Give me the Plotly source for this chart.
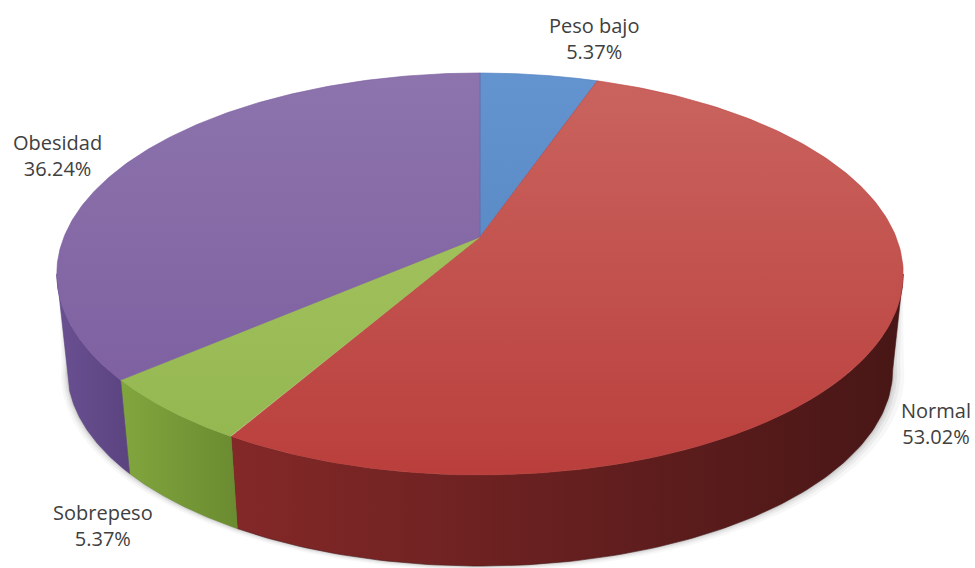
import numpy as np
import plotly.graph_objects as go

# Body-mass categories and their share of the sample (%)
categories = ["Peso bajo", "Normal", "Sobrepeso", "Obesidad"]
values = [5.37, 53.02, 5.37, 36.24]

# Slice colours: top face (light -> dark), side face (left -> right)
top_colors = [("#6494cf", "#4f7fbd"), ("#ca645f", "#ba3f3c"),
              ("#a9c765", "#93b64f"), ("#8d74ad", "#7a5b9d")]
side_colors = [("#3f6898", "#2f4f78"), ("#842828", "#481616"),
               ("#82a63e", "#6a8b30"), ("#6a5091", "#5b4380")]

# Label anchor points (pixels)
label_pos = [(594, 38, "center"), (936, 423, "center"),
             (103, 525, "center"), (57, 155, "center")]

W, H = 975, 568
CX, CY = 480.0, 237.0      # projected pie centre
A, B, K = 416.0, 194.2, 0.184  # half-width, half-height, perspective factor
DEPTH, SHRINK = 97.0, 0.975    # thickness and bottom-rim scaling


def rim(theta):
    """Project angle(s) (clockwise from the far side) onto the top rim."""
    u, v = np.sin(theta), np.cos(theta)
    d = 1.0 + K * v
    return CX + A * u / d, CY - B * v / d


def bottom_rim(theta):
    x, y = rim(theta)
    return CX + SHRINK * (x - CX), CY + DEPTH + SHRINK * (y - CY)


fracs = np.array(values) / np.sum(values)
edges = np.concatenate([[0.0], np.cumsum(fracs)]) * 2 * np.pi

# angles where the side wall turns away from the viewer
vis_lo = np.pi - np.arccos(K)
vis_hi = np.pi + np.arccos(K)

fig = go.Figure()

# soft drop shadow around the front wall
t_front = np.linspace(vis_lo - 0.05, vis_hi + 0.05, 200)
for grow, alpha in [(9, 0.03), (6, 0.045), (3.5, 0.06), (1.5, 0.08)]:
    tx, ty = rim(t_front)
    bx, by = bottom_rim(t_front)
    bx = CX + (bx - CX) * (1 + grow / 410.0) + grow * 0.3
    by = by + grow * 0.5
    fig.add_trace(go.Scatter(
        x=np.concatenate([tx, bx[::-1]]), y=np.concatenate([ty, by[::-1]]),
        fill="toself", mode="lines", line=dict(width=0),
        fillcolor=f"rgba(0,0,0,{alpha})", hoverinfo="skip", showlegend=False))

# side walls (only the visible front arc of each slice)
for i in range(len(values)):
    a0, a1 = max(edges[i], vis_lo), min(edges[i + 1], vis_hi)
    if a1 <= a0:
        continue
    t = np.linspace(a0, a1, 120)
    tx, ty = rim(t)
    bx, by = bottom_rim(t)
    xs = np.concatenate([tx, bx[::-1], tx[:1]])
    ys = np.concatenate([ty, by[::-1], ty[:1]])
    c0, c1 = side_colors[i]
    fig.add_trace(go.Scatter(
        x=xs, y=ys, fill="toself", mode="lines",
        line=dict(width=0.6, color=c1),
        fillgradient=dict(type="horizontal", start=float(xs.min()),
                          stop=float(xs.max()),
                          colorscale=[[0, c0], [1, c1]]),
        hoverinfo="skip", showlegend=False))

# top faces
for i in range(len(values)):
    t = np.linspace(edges[i], edges[i + 1], 200)
    tx, ty = rim(t)
    xs = np.concatenate([[CX], tx, [CX]])
    ys = np.concatenate([[CY], ty, [CY]])
    c0, c1 = top_colors[i]
    fig.add_trace(go.Scatter(
        x=xs, y=ys, fill="toself", mode="lines",
        line=dict(width=0.6, color=c1),
        fillgradient=dict(type="vertical", start=CY - B / (1 + K),
                          stop=CY + B / (1 - K),
                          colorscale=[[0, c0], [1, c1]]),
        hoverinfo="skip", showlegend=False))

# category / percentage labels
for name, val, (lx, ly, al) in zip(categories, values, label_pos):
    fig.add_annotation(x=lx, y=ly, text=f"{name}<br>{val:.2f}%",
                       showarrow=False, align=al, xanchor="center",
                       yanchor="middle",
                       font=dict(family="Open Sans", size=20, color="#404040"))

fig.update_xaxes(range=[0, W], visible=False, fixedrange=True)
fig.update_yaxes(range=[H, 0], visible=False, fixedrange=True)
fig.update_layout(width=W, height=H, margin=dict(l=0, r=0, t=0, b=0),
                  paper_bgcolor="white", plot_bgcolor="white")

fig.write_html("out.html")
